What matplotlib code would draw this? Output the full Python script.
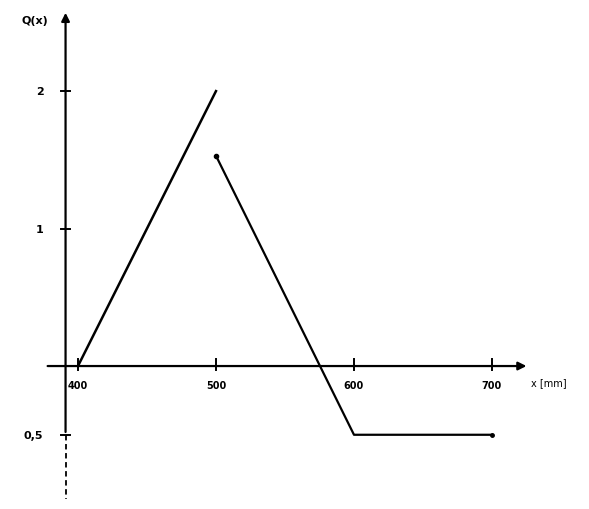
import matplotlib.pyplot as plt

# Q(x) sketch, piecewise linear with a jump at x = 500
seg1_x = [400, 500]
seg1_q = [0, 2]
seg2_x = [500, 600, 700]
seg2_q = [1.53, -0.5, -0.5]

x_ticks = [400, 500, 600, 700]
x_tick_labels = ['400', '500', '600', '700']
y_ticks = [2, 1, -0.5]
y_tick_labels = ['2', '1', '0,5']

fig = plt.figure(figsize=(5.89, 5.10), dpi=100)
ax = fig.add_axes([0, 0, 1, 1])
ax.set_xlim(343.5, 770.3)
ax.set_ylim(-1.04, 2.67)
ax.axis('off')

# axes drawn by hand, with arrow heads
ax.annotate('', xy=(727, 0), xytext=(376, 0),
            arrowprops=dict(arrowstyle='-|>', lw=1.6, color='black', mutation_scale=12))
ax.annotate('', xy=(391, 2.59), xytext=(391, -0.5),
            arrowprops=dict(arrowstyle='-|>', lw=1.6, color='black', mutation_scale=12))
ax.plot([391, 391], [-0.5, -0.97], color='black', lw=1.3, ls=(0, (3, 2)))

# ticks
for xt, lab in zip(x_ticks, x_tick_labels):
    ax.plot([xt, xt], [-0.03, 0.05], color='black', lw=1.4)
    ax.text(xt, -0.1, lab, ha='center', va='top', fontsize=7, fontweight='bold')
for yt, lab in zip(y_ticks, y_tick_labels):
    ax.plot([388, 394], [yt, yt], color='black', lw=1.4)
    ax.text(375, yt, lab, ha='right', va='center', fontsize=8, fontweight='bold')

ax.text(728, -0.12, 'x [mm]', ha='left', va='center', fontsize=7)
ax.text(369, 2.52, 'Q(x)', ha='center', va='center', fontsize=8, fontweight='bold')

# the curve
ax.plot(seg1_x, seg1_q, color='black', lw=1.8)
ax.plot(seg2_x, seg2_q, color='black', lw=1.6)
ax.plot(seg2_x[0], seg2_q[0], marker='o', ms=3, color='black')
ax.plot(seg2_x[-1], seg2_q[-1], marker='o', ms=2.5, color='black')

fig.savefig('out.png', dpi=100)
